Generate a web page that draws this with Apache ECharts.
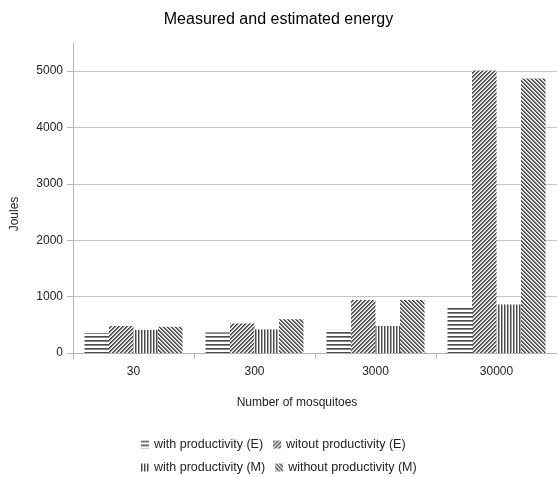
<!DOCTYPE html>
<html>
<head>
<meta charset="utf-8">
<script src="https://cdn.jsdelivr.net/npm/echarts@6/dist/echarts.min.js"></script>
<style>
html,body{margin:0;padding:0;background:#fff;}
#chart{width:557px;height:477px;}
</style>
</head>
<body>
<div id="chart"></div>
<script>
var categories = ['30', '300', '3000', '30000'];
var withProdE = [355, 365, 410, 805];
var withoutProdE = [480, 525, 940, 5010];
var withProdM = [410, 420, 480, 860];
var withoutProdM = [465, 600, 940, 4870];
var seriesNames = ['with productivity (E)', 'witout productivity (E)', 'with productivity (M)', 'without productivity (M)'];
var yTicks = [0, 1000, 2000, 3000, 4000, 5000];

function makePattern(kind) {
  var n = kind === 'v' ? 3 : 4;
  var shades = kind === 'h' ? ['#4a4a4a', '#8a8a8a', '#ffffff', '#ffffff']
             : kind === 'v' ? ['#4a4a4a', '#a8a8a8', '#ffffff']
             : ['#454545', '#6e6e6e', '#d0d0d0', '#ffffff'];
  var c = document.createElement('canvas');
  c.width = n; c.height = n;
  var ctx = c.getContext('2d');
  for (var x = 0; x < n; x++) {
    for (var y = 0; y < n; y++) {
      var d;
      if (kind === 'h') d = y;
      else if (kind === 'v') d = x;
      else if (kind === 'f') d = (x + y) % n;          // "/"
      else d = (x - y + n) % n;                        // "\"
      ctx.fillStyle = shades[d];
      ctx.fillRect(x, y, 1, 1);
    }
  }
  return { image: c, repeat: 'repeat' };
}

var patterns = [makePattern('h'), makePattern('f'), makePattern('v'), makePattern('b')];
var dataSets = [withProdE, withoutProdE, withProdM, withoutProdM];

var chart = echarts.init(document.getElementById('chart'), null, { renderer: 'canvas' });
var font = '"Liberation Sans", Arial, sans-serif';

var series = seriesNames.map(function (name, i) {
  return {
    name: name,
    type: 'bar',
    data: dataSets[i],
    barGap: '0%',
    barCategoryGap: '19%',
    itemStyle: { color: patterns[i] },
    animation: false
  };
});

chart.setOption({
  backgroundColor: '#fff',
  animation: false,
  title: {
    text: 'Measured and estimated energy',
    left: 'center',
    top: 7,
    textStyle: { fontFamily: font, fontSize: 16, fontWeight: 'normal', color: '#000' }
  },
  legend: [
    {
      data: [seriesNames[0], seriesNames[1]],
      left: 136, top: 433,
      itemWidth: 8, itemHeight: 8, itemGap: 10,
      icon: 'rect',
      textStyle: { fontFamily: font, fontSize: 12.5, color: '#222' }
    },
    {
      data: [seriesNames[2], seriesNames[3]],
      left: 136, top: 456,
      itemWidth: 8, itemHeight: 8, itemGap: 10,
      icon: 'rect',
      textStyle: { fontFamily: font, fontSize: 12.5, color: '#222' }
    }
  ],
  grid: { left: 73, right: 0, top: 43, bottom: 124, containLabel: false },
  xAxis: {
    type: 'category',
    data: categories,
    axisLine: { lineStyle: { color: '#b3b3b3', width: 1 } },
    axisTick: { show: true, length: 6, alignWithLabel: false, lineStyle: { color: '#b3b3b3' } },
    axisLabel: { margin: 13, fontFamily: font, fontSize: 12, color: '#222' },
    splitLine: { show: false }
  },
  yAxis: {
    type: 'value',
    min: 0,
    max: 5500,
    axisLine: { show: true, lineStyle: { color: '#b3b3b3', width: 1 } },
    axisTick: { show: true, length: 6, lineStyle: { color: '#b3b3b3' }, customValues: yTicks },
    axisLabel: {
      margin: 10, fontFamily: font, fontSize: 12, color: '#222', customValues: yTicks,
      formatter: function (v) { return String(v); }
    },
    splitLine: { show: true, lineStyle: { color: '#c6c6c6', width: 1 } }
  },
  graphic: [
    {
      type: 'text',
      x: 15, y: 214,
      rotation: Math.PI / 2,
      style: { text: 'Joules', font: '12px ' + font, fill: '#222', align: 'center', verticalAlign: 'middle' }
    },
    {
      type: 'text',
      x: 297, y: 403,
      style: { text: 'Number of mosquitoes', font: '12px ' + font, fill: '#222', align: 'center', verticalAlign: 'middle' }
    }
  ],
  series: series
});
</script>
</body>
</html>
